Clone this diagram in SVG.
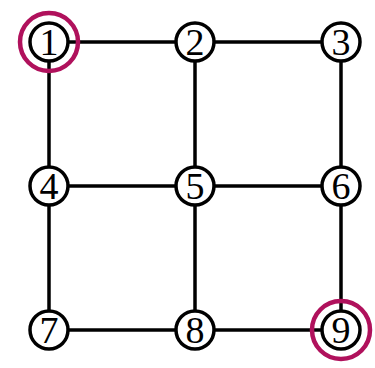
<svg xmlns="http://www.w3.org/2000/svg" width="375" height="368" viewBox="0 0 375 368">
  <style>
    .edge { stroke: #000; stroke-width: 3.5; }
    .node circle.body { fill: #fff; stroke: #000; stroke-width: 3.5; }
    .node text { font-family: "Liberation Serif", "DejaVu Serif", serif; font-size: 38px; text-anchor: middle; fill: #000; }
    .node circle.mark { fill: none; stroke: #b0115c; stroke-width: 4.5; }
  </style>
  <rect width="375" height="368" fill="#fff"/>
  <g id="connectors">
    <line class="edge" x1="49" y1="42" x2="195" y2="42"/>
    <line class="edge" x1="195" y1="42" x2="341" y2="42"/>
    <line class="edge" x1="49" y1="186" x2="195" y2="186"/>
    <line class="edge" x1="195" y1="186" x2="341" y2="186"/>
    <line class="edge" x1="49" y1="330" x2="195" y2="330"/>
    <line class="edge" x1="195" y1="330" x2="341" y2="330"/>
    <line class="edge" x1="49" y1="42" x2="49" y2="186"/>
    <line class="edge" x1="49" y1="186" x2="49" y2="330"/>
    <line class="edge" x1="195" y1="42" x2="195" y2="186"/>
    <line class="edge" x1="195" y1="186" x2="195" y2="330"/>
    <line class="edge" x1="341" y1="42" x2="341" y2="186"/>
    <line class="edge" x1="341" y1="186" x2="341" y2="330"/>
  </g>
  <g id="node1" class="node"><circle class="body" cx="49" cy="42" r="19"/><text x="49" y="55">1</text><circle class="mark" cx="49" cy="42" r="29"/></g>
  <g id="node2" class="node"><circle class="body" cx="195" cy="42" r="19"/><text x="195" y="55">2</text></g>
  <g id="node3" class="node"><circle class="body" cx="341" cy="42" r="19"/><text x="341" y="55">3</text></g>
  <g id="node4" class="node"><circle class="body" cx="49" cy="186" r="19"/><text x="49" y="199">4</text></g>
  <g id="node5" class="node"><circle class="body" cx="195" cy="186" r="19"/><text x="195" y="199">5</text></g>
  <g id="node6" class="node"><circle class="body" cx="341" cy="186" r="19"/><text x="341" y="199">6</text></g>
  <g id="node7" class="node"><circle class="body" cx="49" cy="330" r="19"/><text x="49" y="343">7</text></g>
  <g id="node8" class="node"><circle class="body" cx="195" cy="330" r="19"/><text x="195" y="343">8</text></g>
  <g id="node9" class="node"><circle class="body" cx="341" cy="330" r="19"/><text x="341" y="343">9</text><circle class="mark" cx="341" cy="330" r="29"/></g>
</svg>
